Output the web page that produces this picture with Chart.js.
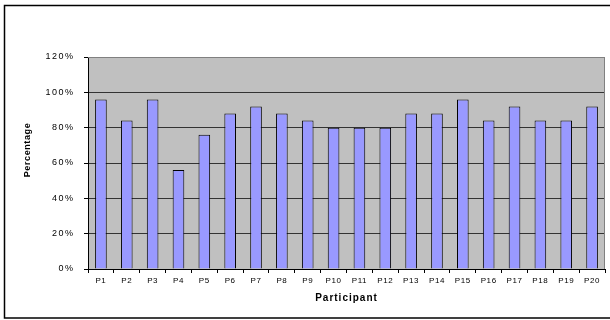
<!DOCTYPE html>
<html>
<head>
<meta charset="utf-8">
<script src="https://cdn.jsdelivr.net/npm/chart.js@4/dist/chart.umd.min.js"></script>
<style>
  html, body { margin: 0; padding: 0; background: #fff; }
  #chart { display: block; }
</style>
</head>
<body>
<canvas id="chart" width="610" height="320"></canvas>
<script>
// Share of correct answers per participant
const participants = ['P1','P2','P3','P4','P5','P6','P7','P8','P9','P10',
                      'P11','P12','P13','P14','P15','P16','P17','P18','P19','P20'];
const percentages = [96, 84, 96, 56, 76, 88, 92, 88, 84, 80,
                     80, 80, 88, 88, 96, 84, 92, 84, 84, 92];
const yTicks = [0, 20, 40, 60, 80, 100, 120];

const FONT = 'Arial, "Liberation Sans", sans-serif';

// Per-axis text tweaks: letter spacing for labels/titles and a title nudge
const axisText = {
  x: { labels: '0.6px', title: '1px',   shift: [0, 0] },
  y: { labels: '1.5px', title: '0.6px', shift: [0, -13] }
};

const textStyle = {
  id: 'textStyle',
  beforeDraw(chart) {
    for (const id of Object.keys(axisText)) {
      const s = chart.scales[id];
      if (!s || s._styled) continue;
      s._styled = true;
      const cfg = axisText[id];
      const drawLabels = s.drawLabels.bind(s);
      const drawTitle = s.drawTitle.bind(s);
      s.drawLabels = (area) => {
        const c = s.ctx; c.save(); c.letterSpacing = cfg.labels; drawLabels(area); c.restore();
      };
      s.drawTitle = () => {
        const c = s.ctx; c.save(); c.letterSpacing = cfg.title;
        c.translate(cfg.shift[0], cfg.shift[1]); drawTitle(); c.restore();
      };
    }
  }
};

// Grey plot background, frame lines and the outer chart border
const frame = {
  id: 'frame',
  beforeDraw(chart) {
    const { ctx, chartArea: a } = chart;
    ctx.save();
    ctx.fillStyle = '#fff';
    ctx.fillRect(0, 0, chart.width, chart.height);
    ctx.fillStyle = '#c0c0c0';
    ctx.fillRect(a.left, a.top, a.right - a.left, a.bottom - a.top);
    ctx.restore();
  },
  afterDraw(chart) {
    const { ctx, chartArea: a } = chart;
    ctx.save();
    ctx.strokeStyle = '#808080';
    ctx.lineWidth = 1;
    ctx.beginPath();
    ctx.moveTo(a.left, a.top + 0.5);
    ctx.lineTo(a.right - 0.5, a.top + 0.5);
    ctx.lineTo(a.right - 0.5, a.bottom);
    ctx.stroke();
    ctx.strokeStyle = '#000';
    ctx.lineWidth = 1.5;
    ctx.strokeRect(4.5, 5.5, chart.width + 10, 312.5);
    ctx.restore();
  }
};

new Chart(document.getElementById('chart'), {
  type: 'bar',
  data: {
    labels: participants,
    datasets: [{
      data: percentages,
      backgroundColor: '#9999ff',
      borderColor: '#000',
      borderWidth: 1,
      barPercentage: 0.45,
      categoryPercentage: 1
    }]
  },
  options: {
    responsive: false,
    animation: false,
    devicePixelRatio: 1,
    layout: { padding: { left: 4, top: 57, right: 5, bottom: 0 } },
    plugins: {
      legend: { display: false },
      tooltip: { enabled: false }
    },
    scales: {
      x: {
        offset: true,
        afterFit(scale) { scale.height = 51; },
        grid: {
          offset: true,
          drawOnChartArea: false,
          drawTicks: true,
          tickLength: 4,
          color: '#000'
        },
        border: { display: true, color: '#000', width: 1 },
        ticks: {
          autoSkip: false,
          maxRotation: 0,
          minRotation: 0,
          padding: 3,
          color: '#000',
          font: { family: FONT, size: 8 }
        },
        title: {
          display: true,
          text: 'Participant',
          color: '#000',
          font: { family: FONT, size: 10, weight: 'bold' },
          padding: { top: 0, bottom: 16 }
        }
      },
      y: {
        min: 0,
        max: 120,
        afterFit(scale) { scale.width = 84; },
        afterBuildTicks(scale) { scale.ticks = yTicks.map(v => ({ value: v })); },
        grid: {
          color: (c) => c.tick && c.tick.value === 120 ? '#808080' : '#333',
          tickColor: '#000',
          drawTicks: true,
          tickLength: 4,
          lineWidth: 1
        },
        border: { display: true, color: '#000', width: 1 },
        ticks: {
          padding: 9.5,
          color: '#000',
          font: { family: FONT, size: 9 },
          callback: (v) => v + '%'
        },
        title: {
          display: true,
          text: 'Percentage',
          color: '#000',
          font: { family: FONT, size: 9, weight: 'bold' },
          padding: { top: 18.6, bottom: 0 }
        }
      }
    }
  },
  plugins: [frame, textStyle]
});
</script>
</body>
</html>
